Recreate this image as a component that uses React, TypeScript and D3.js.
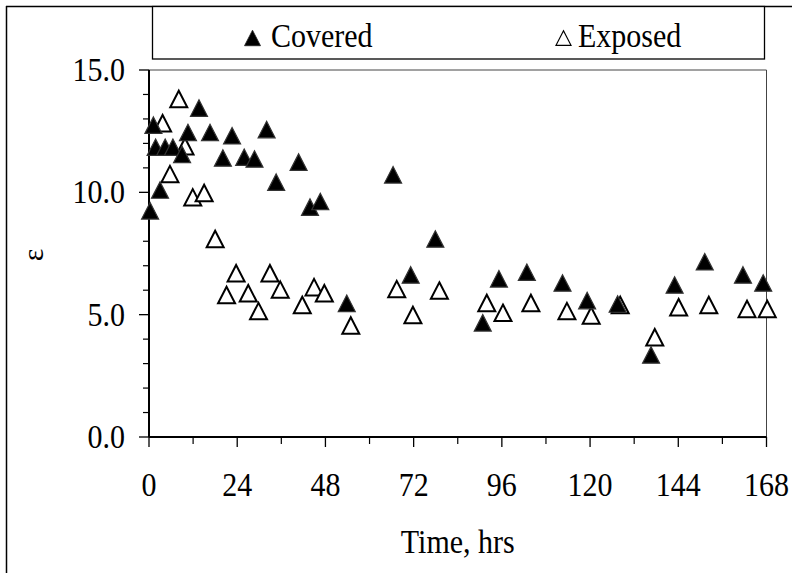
import React from "react";
import * as d3 from "d3";

const coveredTime = [0.3, 1.2, 1.8, 3.0, 4.4, 6.5, 9.0, 10.6, 13.6, 16.6, 20.1, 22.6, 25.9, 28.7, 32.0, 34.6, 40.7, 43.8, 46.6, 53.8, 66.4, 71.2, 77.9, 90.8, 95.2, 102.8, 112.5, 119.2, 127.5, 136.6, 143.0, 151.2, 161.6, 167.1];
const coveredValue = [9.2, 12.7, 11.8, 10.05, 11.8, 11.8, 11.5, 12.4, 13.4, 12.4, 11.36, 12.27, 11.39, 11.32, 12.52, 10.37, 11.19, 9.35, 9.58, 5.42, 10.67, 6.58, 8.05, 4.62, 6.42, 6.69, 6.25, 5.53, 5.39, 3.31, 6.17, 7.12, 6.58, 6.25];

const exposedTime = [3.7, 5.7, 8.1, 9.8, 11.9, 15.0, 18.0, 21.1, 23.7, 27.0, 29.8, 32.9, 35.7, 41.7, 44.9, 47.7, 54.9, 67.4, 71.8, 79.0, 91.9, 96.3, 103.9, 113.7, 120.3, 128.2, 137.6, 144.1, 152.3, 162.7, 168.2];
const exposedValue = [12.78, 10.7, 13.77, 11.84, 9.75, 9.93, 8.05, 5.76, 6.65, 5.83, 5.1, 6.65, 5.98, 5.35, 6.08, 5.83, 4.51, 6.0, 4.94, 5.94, 5.43, 5.03, 5.43, 5.1, 4.92, 5.35, 4.03, 5.26, 5.35, 5.19, 5.19];

const xTicks = [0, 24, 48, 72, 96, 120, 144, 168];
const yTicks = [0, 5, 10, 15];
const seriesNames = ["Covered", "Exposed"];

const W = 792;
const H = 573;
const L = 149, R = 766.5, T = 70, B = 437;
const FONT = "Liberation Serif, Times New Roman, Times, serif";

const tri = (s: number) => `M0,${-s * 0.55}L${s * 0.5},${s * 0.42}L${-s * 0.5},${s * 0.42}Z`;

const Txt = ({ x, y, anchor = "start", children, size = 30 }: any) => (
  <text
    transform={`translate(${x},${y}) scale(1,1.1)`}
    fontSize={size}
    textAnchor={anchor}
    fill="#000"
    style={{ fontFamily: FONT }}
  >
    {children}
  </text>
);

export default function App() {
  const x = d3.scaleLinear().domain([0, 168]).range([L, R]);
  const y = d3.scaleLinear().domain([0, 15]).range([B, T]);
  const xMinor = d3.range(12, 168, 24);
  const yMinor = d3.range(0, 15.01, 1).filter((v) => v % 5 !== 0);
  const fmt = d3.format(".1f");
  const covered = coveredTime.map((t, i) => ({ t, v: coveredValue[i] }));
  const exposed = exposedTime.map((t, i) => ({ t, v: exposedValue[i] }));

  return (
    <svg width={W} height={H} style={{ position: "absolute", left: 0, top: 0, fontFamily: FONT }}>
      <rect x={0} y={0} width={W} height={H} fill="white" />
      {/* outer frame */}
      <line x1={6.5} y1={6} x2={6.5} y2={H} stroke="#000" strokeWidth={1.5} />
      <line x1={6} y1={6.5} x2={W} y2={6.5} stroke="#000" strokeWidth={1.5} />
      {/* legend */}
      <rect x={152.5} y={6.5} width={612} height={52.5} fill="white" stroke="#000" strokeWidth={1.3} />
      <path d={tri(16)} transform="translate(252.5,39)" fill="#000" stroke="#222" strokeWidth={0.8} />
      <Txt x={271} y={47} size={30}>{seriesNames[0]}</Txt>
      <path d={tri(15)} transform="translate(563.5,39)" fill="white" stroke="#000" strokeWidth={1.2} />
      <Txt x={578} y={47} size={30}>{seriesNames[1]}</Txt>
      {/* plot border */}
      <line x1={L} y1={T} x2={R} y2={T} stroke="#444" strokeWidth={1} />
      <line x1={R} y1={T} x2={R} y2={B} stroke="#444" strokeWidth={1} />
      {/* axes */}
      <line x1={L} y1={T} x2={L} y2={B} stroke="#000" strokeWidth={2} />
      <line x1={L} y1={B} x2={R} y2={B} stroke="#000" strokeWidth={2} />
      {yTicks.map((v) => (
        <g key={"yt" + v}>
          <line x1={L - 10} x2={L} y1={y(v)} y2={y(v)} stroke="#000" strokeWidth={1.3} />
          <Txt x={125} y={y(v) + 11} anchor="end">{fmt(v)}</Txt>
        </g>
      ))}
      {yMinor.map((v) => (
        <line key={"ym" + v} x1={L - 6} x2={L} y1={y(v)} y2={y(v)} stroke="#000" strokeWidth={1.2} />
      ))}
      {xTicks.map((t) => (
        <g key={"xt" + t}>
          <line x1={x(t)} x2={x(t)} y1={B} y2={B + 10} stroke="#000" strokeWidth={1.3} />
          <Txt x={x(t)} y={496} anchor="middle">{t}</Txt>
        </g>
      ))}
      {xMinor.map((t) => (
        <line key={"xm" + t} x1={x(t)} x2={x(t)} y1={B} y2={B + 7} stroke="#000" strokeWidth={1.2} />
      ))}
      <Txt x={(L + R) / 2} y={553} anchor="middle">Time, hrs</Txt>
      <text transform="translate(43,255) rotate(-90)" fontSize={30} textAnchor="middle" fill="#000" style={{ fontFamily: FONT }}>ε</text>
      {/* series */}
      {exposed.map((d, i) => (
        <path key={"e" + i} d={tri(17)} transform={`translate(${x(d.t)},${y(d.v)})`} fill="white" stroke="#000" strokeWidth={2} />
      ))}
      {covered.map((d, i) => (
        <path key={"c" + i} d={tri(17)} transform={`translate(${x(d.t)},${y(d.v)})`} fill="#000" stroke="#333" strokeWidth={1.2} />
      ))}
    </svg>
  );
}
